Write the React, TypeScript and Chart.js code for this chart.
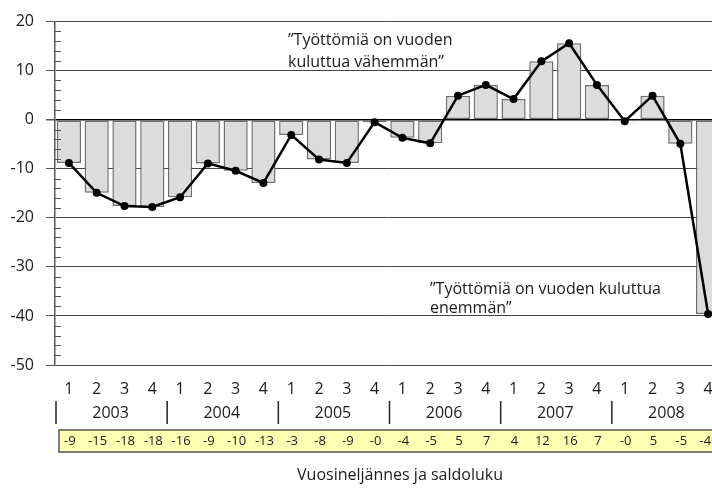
import React, { useEffect, useRef } from "react";
import { Chart, registerables } from "chart.js";

Chart.register(...registerables);

const years = ["2003", "2004", "2005", "2006", "2007", "2008"];
const quarterLabels = ["1", "2", "3", "4"];
const categories = years.flatMap((y) => quarterLabels.map((q) => `${y}/${q}`));
const balance = [
  -8.8, -14.9, -17.6, -17.8,
  -15.8, -8.9, -10.4, -12.9,
  -3.1, -8.1, -8.8, -0.5,
  -3.7, -4.8, 4.9, 7.1,
  4.2, 11.9, 15.6, 7.1,
  -0.3, 4.9, -4.9, -39.6,
];
const tableLabels = [
  "-9", "-15", "-18", "-18",
  "-16", "-9", "-10", "-13",
  "-3", "-8", "-9", "-0",
  "-4", "-5", "5", "7",
  "4", "12", "16", "7",
  "-0", "5", "-5", "-40",
];
const yTicks = [20, 10, 0, -10, -20, -30, -40, -50];
const axisTitle = "Vuosineljännes ja saldoluku";
const noteUpper = ["”Työttömiä on vuoden", "kuluttua vähemmän”"];
const noteLower = ["”Työttömiä on vuoden kuluttua", "enemmän”"];

const FONT = '"Open Sans", sans-serif';
const TEXT = "#1a1a1a";

const decor = {
  id: "decor",
  beforeDraw(chart: any) {
    const ctx = chart.ctx;
    ctx.save();
    ctx.font = `16px ${FONT}`;
    ctx.fillStyle = TEXT;
    ctx.textAlign = "left";
    ctx.textBaseline = "alphabetic";
    ctx.fillText(noteUpper[0], 288, 45);
    ctx.fillText(noteUpper[1], 288, 67);
    ctx.fillText(noteLower[0], 430, 294);
    ctx.fillText(noteLower[1], 430, 313);
    ctx.restore();
  },
  afterDraw(chart: any) {
    const ctx = chart.ctx;
    const x = chart.scales.x;
    const y = chart.scales.y;
    const area = chart.chartArea;
    const cw = x.getPixelForValue(1) - x.getPixelForValue(0);
    ctx.save();
    // minor ticks inside the plot
    ctx.strokeStyle = "#555";
    ctx.lineWidth = 1;
    for (let v = y.min; v <= y.max; v += 2) {
      if (v % 10 === 0) continue;
      const py = Math.round(y.getPixelForValue(v)) + 0.5;
      ctx.beginPath();
      ctx.moveTo(area.left, py);
      ctx.lineTo(area.left + 6, py);
      ctx.stroke();
    }
    // quarter numbers
    ctx.fillStyle = TEXT;
    ctx.font = `16px ${FONT}`;
    ctx.textAlign = "center";
    ctx.textBaseline = "middle";
    categories.forEach((c, i) => {
      ctx.fillText(c.split("/")[1], x.getPixelForValue(i), 389);
    });
    // years + separators
    years.forEach((yr, k) => {
      const a = x.getPixelForValue(4 * k);
      const b = x.getPixelForValue(4 * k + 3);
      ctx.fillText(yr, (a + b) / 2, 413);
      const sx = a - cw / 2 + 1;
      ctx.strokeStyle = "#222";
      ctx.lineWidth = 1.5;
      ctx.beginPath();
      ctx.moveTo(sx, 401);
      ctx.lineTo(sx, 424);
      ctx.stroke();
    });
    // table
    ctx.fillStyle = "#ffffb4";
    ctx.fillRect(area.left + 4, 430, chart.width, 22);
    ctx.strokeStyle = "#555";
    ctx.lineWidth = 1.5;
    ctx.strokeRect(area.left + 4, 430, chart.width, 22);
    ctx.fillStyle = TEXT;
    ctx.font = `13px ${FONT}`;
    tableLabels.forEach((t, i) => {
      ctx.fillText(t, x.getPixelForValue(i) + 1, 441);
    });
    // title
    ctx.font = `16px ${FONT}`;
    ctx.fillText(axisTitle, 400, 475);
    ctx.restore();
  },
};

export default function App() {
  const ref = useRef<HTMLCanvasElement | null>(null);
  useEffect(() => {
    document.documentElement.style.overflow = "hidden";
    document.body.style.margin = "0";
    document.body.style.overflow = "hidden";
    Chart.defaults.font.family = FONT;
    const chart = new Chart(ref.current as HTMLCanvasElement, {
      type: "bar",
      data: {
        labels: categories,
        datasets: [
          {
            type: "line",
            data: balance,
            borderColor: "#000",
            backgroundColor: "#000",
            borderWidth: 2.5,
            pointRadius: 4,
            pointBackgroundColor: "#000",
            pointBorderWidth: 0,
            tension: 0,
            order: 1,
          } as any,
          {
            type: "bar",
            data: balance,
            backgroundColor: "#dcdcdc",
            borderColor: "#6e6e6e",
            borderWidth: 1.5,
            borderSkipped: false,
            barPercentage: 0.87,
            categoryPercentage: 1,
            order: 2,
          } as any,
        ],
      },
      options: {
        responsive: false,
        animation: false,
        layout: { padding: { top: 18, right: 18, left: 0, bottom: 0 } },
        plugins: { legend: { display: false }, tooltip: { enabled: false } },
        scales: {
          x: {
            grid: { display: false },
            border: { display: false },
            ticks: { display: false },
            afterFit(scale: any) {
              scale.height = 123;
            },
          },
          y: {
            min: -50,
            max: 20,
            afterBuildTicks(scale: any) {
              scale.ticks = yTicks.map((v) => ({ value: v }));
            },
            ticks: {
              font: { size: 16, family: FONT },
              color: TEXT,
              padding: 12,
            },
            grid: {
              color: (c: any) => (c.tick && c.tick.value === 0 ? "#000" : "#444"),
              lineWidth: (c: any) => (c.tick && c.tick.value === 0 ? 1.5 : 1),
              tickLength: 9,
              tickColor: "#555",
            },
            border: { display: true, color: "#555", width: 1.5 },
            afterFit(scale: any) {
              scale.width = 55;
            },
          },
        },
      },
      plugins: [decor],
    });
    return () => chart.destroy();
  }, []);
  return (
    <div style={{ width: 740, height: 488, overflow: "hidden" }}>
      <canvas ref={ref} width={740} height={488} style={{ display: "block" }} />
    </div>
  );
}
